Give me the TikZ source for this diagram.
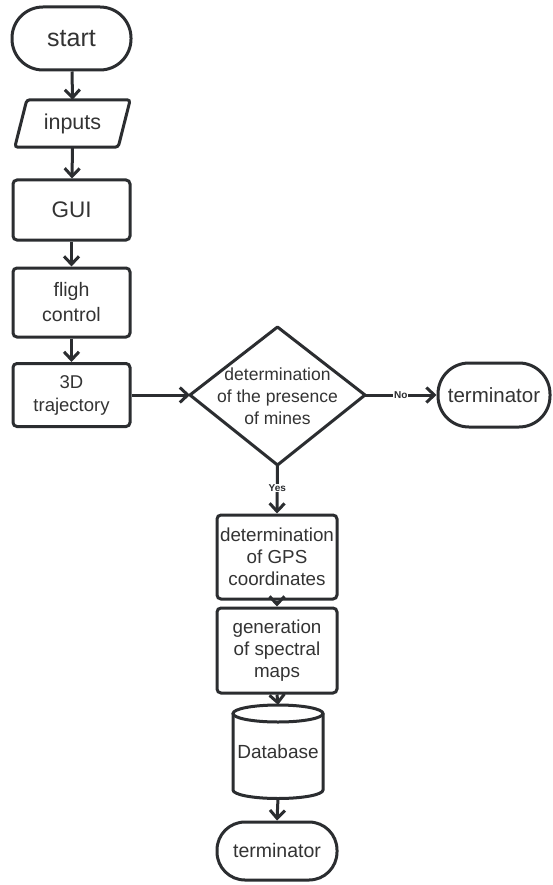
\documentclass[tikz,border=0pt]{standalone}
\usepackage{fontspec}
\setmainfont{Liberation Sans}
\usetikzlibrary{arrows.meta}
\definecolor{ln}{HTML}{2B2D30}
\definecolor{tx}{HTML}{333333}
\begin{document}
\begin{tikzpicture}[x=1pt,y=-1pt,
  base/.style={draw=ln,line width=3pt,text=tx,inner sep=0pt,align=center},
  proc/.style={base,rounded corners=4pt},
  term/.style={base},
  plain/.style={inner sep=0pt,text=tx,align=center},
  arr/.style={draw=ln,line width=3pt,-{Straight Barb[length=8pt,width=15pt]}},
  lbl/.style={fill=white,inner sep=0.6pt,text=ln,font=\fontsize{10}{10}\selectfont\bfseries}]
\useasboundingbox[fill=white] (0,0) rectangle (552,885);

\node[term,rounded corners=31pt,minimum width=119pt,minimum height=63pt,font=\fontsize{25}{25}\selectfont] (start) at (71.5,38.5) {start};

\node[plain,minimum width=103pt,minimum height=47pt,font=\fontsize{21.5}{21.5}\selectfont] (inp) at (72.5,123.5) {inputs};
\draw[draw=ln,line width=3pt,rounded corners=3pt] ([xshift=-6pt]inp.south west) -- ([xshift=-6pt]inp.south east) -- ([xshift=6pt]inp.north east) -- ([xshift=6pt]inp.north west) -- cycle;

\node[proc,minimum width=117pt,minimum height=60pt,font=\fontsize{22.5}{22.5}\selectfont] (gui) at (71.5,210) {GUI};
\node[proc,minimum width=117pt,minimum height=69pt,font=\fontsize{19.5}{25}\selectfont] (fc) at (71.5,302.5) {fligh\\control};
\node[proc,minimum width=117pt,minimum height=63pt,font=\fontsize{18.5}{23}\selectfont] (traj) at (71.5,395) {3D\\trajectory};

\node[plain,font=\fontsize{17.5}{22}\selectfont] (dec) at (277.5,396) {determination\\of the presence\\of mines};
\draw[draw=ln,line width=3pt,line join=round] (190,395) -- (277.5,327) -- (365,395) -- (277.5,465) -- cycle;
\coordinate (decL) at (190,395);
\coordinate (decR) at (365,395);
\coordinate (decB) at (277.5,465);

\node[term,rounded corners=31pt,minimum width=112pt,minimum height=64pt,font=\fontsize{20.5}{20.5}\selectfont] (t1) at (494,395) {terminator};

\node[proc,minimum width=120pt,minimum height=84pt,font=\fontsize{18.8}{22}\selectfont] (gps) at (277,557) {determination\\of GPS\\coordinates};
\node[proc,minimum width=120pt,minimum height=85pt,font=\fontsize{18.8}{22}\selectfont] (spec) at (277,650.5) {generation\\of spectral\\maps};

\node[plain,minimum width=90pt,minimum height=93pt,font=\fontsize{19}{19}\selectfont] (db) at (278,751.5) {Database};
\draw[draw=ln,line width=3pt] (233,713.5) -- (233,790) arc[start angle=180,end angle=360,x radius=45pt,y radius=8.5pt] -- (323,713.5);
\draw[draw=ln,line width=3pt] (278,713.5) ellipse[x radius=45pt,y radius=8.5pt];

\node[term,rounded corners=28pt,minimum width=120pt,minimum height=58pt,font=\fontsize{19.5}{19.5}\selectfont] (t2) at (277,851) {terminator};

\draw[arr] (start) -- (inp.north);
\draw[arr] (inp.south) -- (gui);
\draw[arr] (gui) -- (fc);
\draw[arr] (fc) -- (traj);
\draw[arr] (traj.east) -- (decL);
\draw[arr] (decR) -- (t1.west) node[lbl,pos=0.5] {No};
\draw[arr] (decB) -- (gps.north) node[lbl,pos=0.48] {Yes};
\draw[arr] (gps.south) -- (spec.north);
\draw[arr] (spec.south) -- (db.north);
\draw[arr] (db.south) -- (t2.north);
\end{tikzpicture}
\end{document}
